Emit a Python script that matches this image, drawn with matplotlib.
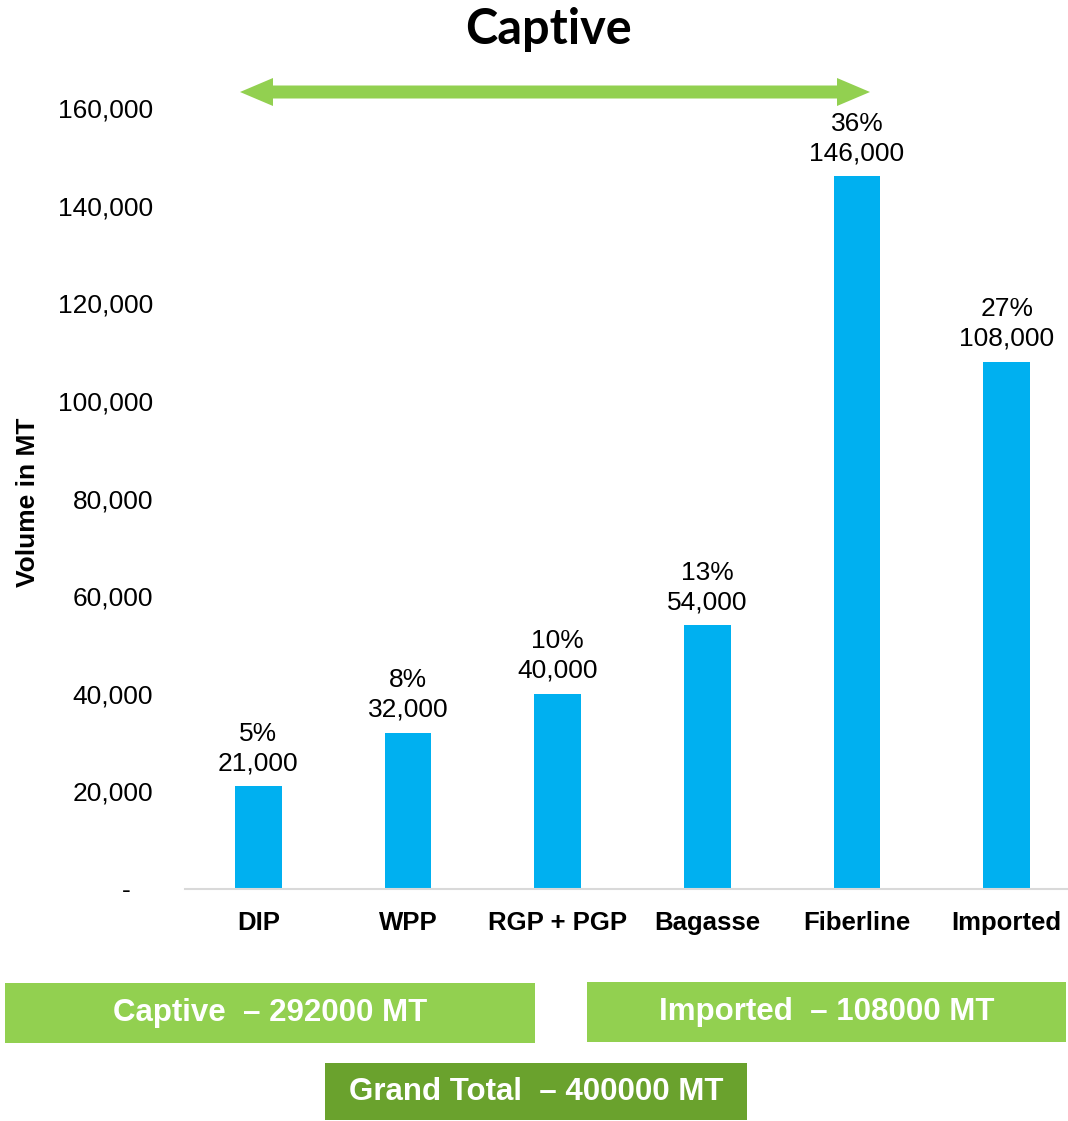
import matplotlib
matplotlib.use("Agg")
import matplotlib.pyplot as plt
from matplotlib.patches import Polygon, Rectangle
from matplotlib.ticker import FuncFormatter

categories = ["DIP", "WPP", "RGP + PGP", "Bagasse", "Fiberline", "Imported"]
values = [21000, 32000, 40000, 54000, 146000, 108000]
percents = ["5%", "8%", "10%", "13%", "36%", "27%"]
yticks = [0, 20000, 40000, 60000, 80000, 100000, 120000, 140000, 160000]
box_texts = ["Captive  \u2013 292000 MT", "Imported  \u2013 108000 MT", "Grand Total  \u2013 400000 MT"]

BLUE = "#00B0F0"
GREEN = "#92D050"
DARK_GREEN = "#6AA22D"

W, H = 1068, 1121
fig = plt.figure(figsize=(W / 100, H / 100), dpi=100)
plt.rcParams['font.family'] = ['Liberation Sans', 'DejaVu Sans']

ax = fig.add_axes([185 / W, 1 - 889 / H, 883 / W, (889 - 108) / H])
x = list(range(len(categories)))
bars = ax.bar(x, values, width=0.31, color=BLUE)
ax.set_xlim(-0.49, 5.41)
ax.set_ylim(0, 160000)
ax.set_yticks(yticks)
ax.yaxis.set_major_formatter(FuncFormatter(lambda v, p: "-   " if v == 0 else f"{int(v):,}"))
ax.tick_params(axis='y', length=0, labelsize=19, pad=23)
ax.set_xticks(x)
ax.set_xticklabels(categories, fontsize=18.5, fontweight='bold')
ax.tick_params(axis='x', length=0, pad=15.5)
for s in ["top", "right", "left"]:
    ax.spines[s].set_visible(False)
ax.spines["bottom"].set_color("#D9D9D9")
ax.spines["bottom"].set_linewidth(1.5)

for xi, v, pc in zip(x, values, percents):
    ax.annotate(f"{pc}\n{v:,}", (xi, v), xytext=(0, 8), textcoords="offset points",
                ha="center", va="bottom", fontsize=19, linespacing=1.3)

fig.text(28 / W, 1 - 502 / H, "Volume in MT", rotation=90, ha="center", va="center",
         fontsize=19, fontweight='bold')

fig.text(548 / W, 1 - 30 / H, "Captive", ha="center", va="center",
         fontsize=35, fontweight='bold', family=['Lato', 'DejaVu Sans'])

# double-headed arrow (pixel coords -> figure fraction)
def px(xp, yp):
    return (xp / W, 1 - yp / H)

yc = 92
sh = 6.5
hh = 14
x0, x1 = 240, 870
hl = 33
pts = [(x0, yc), (x0 + hl, yc - hh), (x0 + hl, yc - sh), (x1 - hl, yc - sh), (x1 - hl, yc - hh),
       (x1, yc), (x1 - hl, yc + hh), (x1 - hl, yc + sh), (x0 + hl, yc + sh), (x0 + hl, yc + hh)]
fig.add_artist(Polygon([px(a, b) for a, b in pts], closed=True, transform=fig.transFigure,
                       facecolor=GREEN, edgecolor="none"))

# summary boxes
boxes = [(5, 983, 530, 60, GREEN), (587, 982, 479, 60, GREEN), (325, 1063, 422, 57, DARK_GREEN)]
for (bx, by, bw, bh, col), t in zip(boxes, box_texts):
    fig.add_artist(Rectangle((bx / W, 1 - (by + bh) / H), bw / W, bh / H,
                             transform=fig.transFigure, facecolor=col, edgecolor="none"))
    fig.text((bx + bw / 2) / W, 1 - (by + bh / 2) / H, t, ha="center", va="center",
             color="white", fontsize=22.5, fontweight='bold')

fig.savefig("out.png", dpi=100)
